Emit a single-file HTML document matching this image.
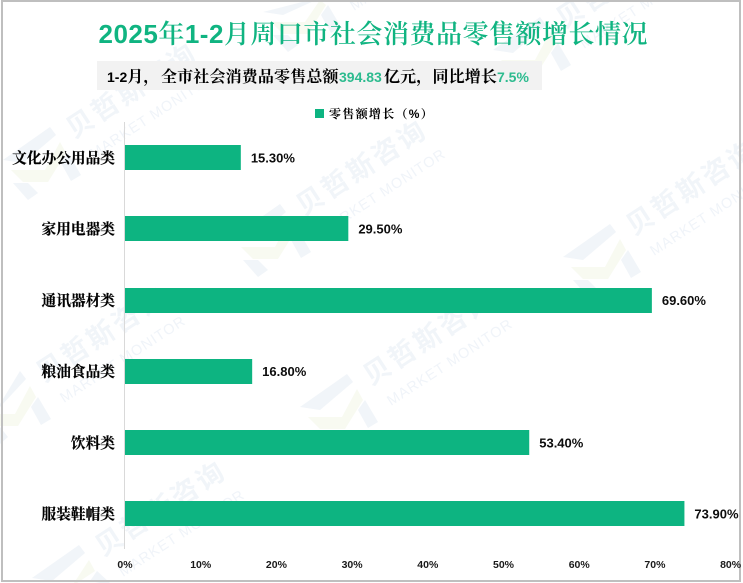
<!DOCTYPE html>
<html lang="zh">
<head>
<meta charset="utf-8">
<title>2025年1-2月周口市社会消费品零售额增长情况</title>
<style>
html,body{margin:0;padding:0;background:#fff;width:743px;height:583px;overflow:hidden;}
body{position:relative;}
svg{position:absolute;left:0;top:0;display:block;overflow:hidden;}
</style>
</head>
<body>
<svg id="chart" width="743" height="583" viewBox="0 0 743 583" xmlns="http://www.w3.org/2000/svg">
  <rect x="0" y="0" width="743" height="583" fill="#fff"/>
  <g id="watermarks"></g>
  <rect x="2" y="1" width="738" height="580" fill="none" stroke="#bfbfbf" stroke-width="2"/>

  <text x="373" y="43" text-anchor="middle" textLength="549" lengthAdjust="spacing" fill="#10b481" font-size="26" style='font-family:"Liberation Sans","Noto Serif CJK SC",serif;font-weight:600'><tspan font-weight="700">2025</tspan>年<tspan font-weight="700">1-2</tspan>月周口市社会消费品零售额增长情况</text>

  <rect x="97" y="61" width="445" height="29" fill="#f2f2f2"/>
  <text y="82" font-size="16" fill="#000" letter-spacing="0.15" style='font-family:"Liberation Sans","Noto Serif CJK SC",serif;font-weight:700'><tspan x="107" font-size="14" letter-spacing="0">1-2</tspan>月，<tspan x="161">全市社会消费品零售总额</tspan><tspan x="339" font-size="14" letter-spacing="0" fill="#2dbb8f">394.83</tspan><tspan x="384">亿元，同比增长</tspan><tspan x="497" font-size="14" letter-spacing="0" fill="#2dbb8f">7.5%</tspan></text>

  <rect x="315" y="109" width="9" height="9" fill="#0db481"/>
  <text x="329" y="118" font-size="12" letter-spacing="1.3" fill="#000" style='font-family:"Liberation Sans","Noto Serif CJK SC",serif;font-weight:700'>零售额增长（%）</text>

  <line x1="124.5" y1="122" x2="124.5" y2="549" stroke="#d9d9d9" stroke-width="1"/>
  <g id="bars"></g>
  <g id="category-labels"></g>
  <g id="value-labels"></g>
  <g id="x-ticks"></g>
</svg>
<script>
const categories = ["文化办公用品类", "家用电器类", "通讯器材类", "粮油食品类", "饮料类", "服装鞋帽类"];
const growthValues = [15.3, 29.5, 69.6, 16.8, 53.4, 73.9];
const valueLabels = ["15.30%", "29.50%", "69.60%", "16.80%", "53.40%", "73.90%"];
const tickValues = [0, 10, 20, 30, 40, 50, 60, 70, 80];
const tickLabels = ["0%", "10%", "20%", "30%", "40%", "50%", "60%", "70%", "80%"];

const SVG_NS = "http://www.w3.org/2000/svg";
const plotLeft = 125, plotRight = 730.6, axisMax = 80;
const firstBandCenter = 157.5, bandStep = 71.2, barHeight = 25;
function xScale(v) { return plotLeft + (v / axisMax) * (plotRight - plotLeft); }
function yScale(i) { return firstBandCenter + i * bandStep; }
function make(tag, parent) {
  const el = document.createElementNS(SVG_NS, tag);
  parent.appendChild(el);
  return el;
}

const barsGroup = document.getElementById("bars");
const catGroup = document.getElementById("category-labels");
const valGroup = document.getElementById("value-labels");
const tickGroup = document.getElementById("x-ticks");

categories.forEach(function (name, i) {
  const cy = yScale(i);
  const bar = make("rect", barsGroup);
  
  
  bar.setAttribute("x", plotLeft);
  bar.setAttribute("y", Math.round(cy - barHeight / 2 + 0.2));
  bar.setAttribute("width", xScale(growthValues[i]) - plotLeft);
  bar.setAttribute("height", barHeight);
  bar.setAttribute("fill", "#0db481");

  const cat = make("text", catGroup);
  
  
  cat.setAttribute("x", 115);
  cat.setAttribute("y", cy + 5.5);
  cat.setAttribute("text-anchor", "end");
  cat.setAttribute("font-size", "14.7");
  cat.setAttribute("fill", "#000");
  cat.setAttribute("stroke", "#000");
  cat.setAttribute("stroke-width", "0.2");
  cat.setAttribute("style", 'font-family:"Liberation Sans","Noto Serif CJK SC",serif;font-weight:700');
  cat.textContent = name;

  const val = make("text", valGroup);
  
  
  val.setAttribute("x", xScale(growthValues[i]) + 10);
  val.setAttribute("y", cy + 5);
  val.setAttribute("font-size", "13");
  val.setAttribute("font-weight", "700");
  val.setAttribute("fill", "#0d0d0d");
  val.setAttribute("style", 'font-family:"Liberation Sans",sans-serif');
  val.textContent = valueLabels[i];
});

tickValues.forEach(function (t, i) {
  const tick = make("text", tickGroup);
  
  
  tick.setAttribute("x", xScale(t));
  tick.setAttribute("y", 568);
  tick.setAttribute("text-anchor", "middle");
  tick.setAttribute("font-size", "10.5");
  tick.setAttribute("font-weight", "700");
  tick.setAttribute("fill", "#1a1a1a");
  tick.setAttribute("style", 'font-family:"Liberation Sans",sans-serif');
  tick.textContent = tickLabels[i];
});

/* Decorative brand watermark stamps (not chart data) */
const stampOrigins = [[80,123],[310,200],[377,370],[109,541],[570,13],[640,220],[50,367],[340,-25]];
const wmGroup = document.getElementById("watermarks");
const logoParts = [
  ["#f1f5f9", [[-35,5],[12,-28],[18,-20],[-15,8]]],
  ["#f8faf1", [[-27,15],[7,15],[22,-13],[28,-2],[10,27],[-15,27]]],
  ["#f1f5f9", [[30,-2],[43,20],[33,26],[23,8]]],
  ["#f1f5f9", [[-25,28],[-10,28],[0,38],[-10,45]]]
];
stampOrigins.forEach(function (o, i) {
  const stamp = make("g", wmGroup);
  
  

  const lx = o[0] - 42, ly = o[1] + 32;
  const logo = make("g", stamp);
  
  
  logoParts.forEach(function (p) {
    const poly = make("polygon", logo);
    
    
    poly.setAttribute("fill", p[0]);
    poly.setAttribute("points", p[1].map(function (q) {
      return Math.max(0, lx + q[0]) + "," + Math.min(583, Math.max(0, ly + q[1]));
    }).join(" "));
  });

  const cn = make("text", stamp);
  
  
  cn.setAttribute("transform", "translate(" + (o[0] - 6) + "," + (o[1] + 16) + ") rotate(-33)");
  cn.setAttribute("font-size", "27");
  cn.setAttribute("letter-spacing", "3");
  cn.setAttribute("font-weight", "700");
  cn.setAttribute("fill", "#f1f5f9");
  cn.setAttribute("style", 'font-family:"Noto Sans CJK SC",sans-serif');
  cn.textContent = "贝哲斯咨询";

  const en = make("text", stamp);
  
  
  en.setAttribute("transform", "translate(" + (o[0] + 14) + "," + (o[1] + 36) + ") rotate(-33)");
  en.setAttribute("font-size", "14.5");
  en.setAttribute("letter-spacing", "1");
  en.setAttribute("fill", "#f0f4f9");
  en.setAttribute("style", 'font-family:"Liberation Sans",sans-serif');
  en.textContent = "MARKET MONITOR";
});
</script>
</body>
</html>
